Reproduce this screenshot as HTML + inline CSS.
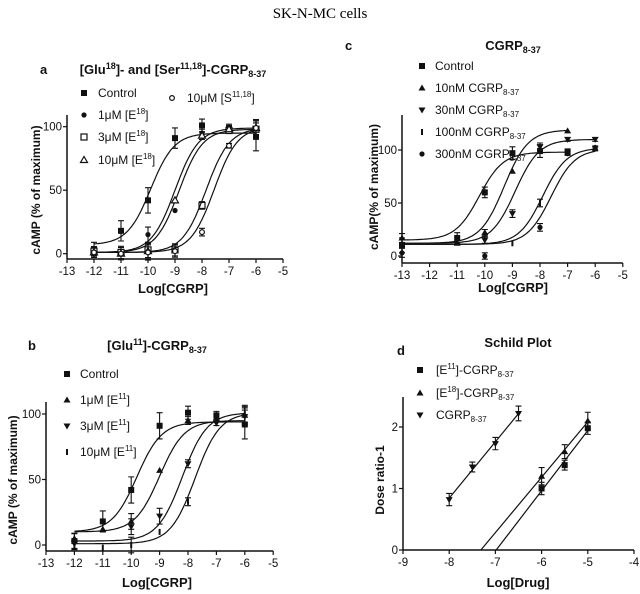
<!DOCTYPE html>
<html><head><meta charset="utf-8"><style>
html,body{margin:0;padding:0;background:#fff;}
svg{display:block;font-family:"Liberation Sans",Arial,sans-serif;}
.t{font-size:11.5px;fill:#111;}
.b{font-weight:bold;font-size:13px;fill:#111;}
.yt{font-weight:bold;font-size:12px;fill:#111;}
.lg{font-size:12px;fill:#111;}
</style></head><body>
<svg id="fig" width="640" height="594" viewBox="0 0 640 594">
<text x="320" y="18" text-anchor="middle" style="font-family:'Liberation Serif',serif;font-size:15px">SK-N-MC cells</text>

<!-- panel a labels -->
<text x="40" y="74" class="b">a</text>
<text x="173" y="74" class="b" text-anchor="middle">[Glu<tspan dy="-5" font-size="9">18</tspan><tspan dy="5">]- and [Ser</tspan><tspan dy="-5" font-size="9">11,18</tspan><tspan dy="5">]-CGRP</tspan><tspan dy="3" font-size="9">8-37</tspan></text>
<text x="98" y="97" class="lg">Control</text>
<text x="98" y="119" class="lg">1μM [E<tspan dy="-5" font-size="8">18</tspan><tspan dy="5">]</tspan></text>
<text x="98" y="141" class="lg">3μM [E<tspan dy="-5" font-size="8">18</tspan><tspan dy="5">]</tspan></text>
<text x="98" y="164" class="lg">10μM [E<tspan dy="-5" font-size="8">18</tspan><tspan dy="5">]</tspan></text>
<text x="187" y="102" class="lg">10μM [S<tspan dy="-5" font-size="8">11,18</tspan><tspan dy="5">]</tspan></text>
<text transform="translate(40,190) rotate(-90)" class="yt" text-anchor="middle">cAMP (% of maximum)</text>
<text x="173" y="293" class="b" text-anchor="middle">Log[CGRP]</text>

<!-- panel c labels -->
<text x="345" y="50" class="b">c</text>
<text x="513" y="50" class="b" text-anchor="middle">CGRP<tspan dy="3" font-size="9">8-37</tspan></text>
<text x="435" y="70" class="lg">Control</text>
<text x="435" y="92" class="lg">10nM CGRP<tspan dy="3" font-size="8">8-37</tspan></text>
<text x="435" y="114" class="lg">30nM CGRP<tspan dy="3" font-size="8">8-37</tspan></text>
<text x="435" y="136" class="lg">100nM CGRP<tspan dy="3" font-size="8">8-37</tspan></text>
<text x="435" y="158" class="lg">300nM CGRP<tspan dy="3" font-size="8">8-37</tspan></text>
<text transform="translate(378,187) rotate(-90)" class="yt" text-anchor="middle">cAMP(% of maximum)</text>
<text x="513" y="292" class="b" text-anchor="middle">Log[CGRP]</text>

<!-- panel b labels -->
<text x="28" y="350" class="b">b</text>
<text x="157" y="350" class="b" text-anchor="middle">[Glu<tspan dy="-5" font-size="9">11</tspan><tspan dy="5">]-CGRP</tspan><tspan dy="3" font-size="9">8-37</tspan></text>
<text x="80" y="378" class="lg">Control</text>
<text x="80" y="404" class="lg">1μM [E<tspan dy="-5" font-size="8">11</tspan><tspan dy="5">]</tspan></text>
<text x="80" y="430" class="lg">3μM [E<tspan dy="-5" font-size="8">11</tspan><tspan dy="5">]</tspan></text>
<text x="80" y="456" class="lg">10μM [E<tspan dy="-5" font-size="8">11</tspan><tspan dy="5">]</tspan></text>
<text transform="translate(17,480) rotate(-90)" class="yt" text-anchor="middle">cAMP (% of maximum)</text>
<text x="157" y="587" class="b" text-anchor="middle">Log[CGRP]</text>

<!-- panel d labels -->
<text x="397" y="355" class="b">d</text>
<text x="518" y="347" class="b" text-anchor="middle">Schild Plot</text>
<text x="436" y="374" class="lg">[E<tspan dy="-5" font-size="8">11</tspan><tspan dy="5">]-CGRP</tspan><tspan dy="3" font-size="8">8-37</tspan></text>
<text x="436" y="397" class="lg">[E<tspan dy="-5" font-size="8">18</tspan><tspan dy="5">]-CGRP</tspan><tspan dy="3" font-size="8">8-37</tspan></text>
<text x="436" y="419" class="lg">CGRP<tspan dy="3" font-size="8">8-37</tspan></text>
<text transform="translate(384,480) rotate(-90)" class="yt" text-anchor="middle">Dose ratio-1</text>
<text x="518" y="587" class="b" text-anchor="middle">Log[Drug]</text>
</svg>
<script>
// ---- Panel a data ----
const aLogX = [-12,-11,-10,-9,-8,-7,-6];
const aControl = [3,18,42,91,101,99,92];
const a1uM = [1,0,15,34,95,99,98];
const a3uM = [2,1,3,3,38,97,98];
const a10uM = [1,0,2,42,93,98,99];
const a10uMS = [1,0,1,2,17,85,99];
const aErr = [6,8,10,8,5,3,11];
const aFitBottom = [7,1,1,1,1];
const aFitTop = [95,98,99,99,100];
const aFitEC50 = [-9.9,-8.85,-9.0,-7.85,-7.55];
const aMarkers = ['sq','circ','osq','otri','ocirc'];
// ---- Panel b data ----
const bLogX = [-12,-11,-10,-9,-8,-7,-6];
const bControl = [3,18,42,91,101,99,92];
const b1uM = [5,12,18,57,95,97,99];
const b3uM = [1,null,14,22,62,93,98];
const b10uM = [0,-2,0,10,33,null,100];
const bErr = [6,8,10,10,5,3,11];
const bFitBottom = [10,10,3,1];
const bFitTop = [94,95,101,101];
const bFitEC50 = [-9.8,-9.0,-8.2,-7.75];
const bMarkers = ['sq','tri','tridown','bar'];
// ---- Panel c data ----
const cLogX = [-13,-11,-10,-9,-8,-7,-6];
const cControl = [10,17,60,97,99,98,null];
const c10nM = [17,12,22,80,null,118,null];
const c30nM = [null,null,15,40,103,110,110];
const c100nM = [null,null,null,12,50,97,102];
const c300nM = [3,null,0,null,27,97,101];
const cErr = [7,5,5,6,6,3,3];
const cFitBottom = [15,12,12,11,11];
const cFitTop = [98,119,110,102,101];
const cFitEC50 = [-10.2,-9.3,-8.9,-7.9,-7.6];
const cFitEnd = [-7,-7,-6,-6,-6];
const cMarkers = ['sq','tri','tridown','bar','circ'];
// ---- Panel d data ----
const dE11X = [-6,-5.5,-5];
const dE11Y = [1.0,1.38,1.98];
const dE18X = [-6,-5.5,-5];
const dE18Y = [1.2,1.6,2.1];
const dCgrpX = [-8,-7.5,-7,-6.5];
const dCgrpY = [0.82,1.35,1.73,2.22];
const dErr = [0.1,0.08,0.1,0.12];

const NS='http://www.w3.org/2000/svg';
const svg=document.getElementById('fig');
function mk(tag,attrs){const e=document.createElementNS(NS,tag);for(const k in attrs)e.setAttribute(k,attrs[k]);svg.appendChild(e);return e;}

function makeAxes(p){
  p.sx=v=>p.x0+(v-p.xmin)*p.kx;
  p.sy=v=>p.y0-v*p.ky;
  let ax=mk('line',{x1:p.x0,y1:p.axisY,x2:p.sx(p.xmax),y2:p.axisY,stroke:'#111','stroke-width':1.5});
  
  
  let ay=mk('line',{x1:p.x0,y1:p.axisY,x2:p.x0,y2:p.axisTop,stroke:'#111','stroke-width':1.5});
  
  
  p.xticks.forEach(t=>{
    const X=p.sx(t);
    const l=mk('line',{x1:X,y1:p.axisY,x2:X,y2:p.axisY+4,stroke:'#111','stroke-width':1.2});
    
    
    const tx=mk('text',{x:X,y:p.axisY+16,'text-anchor':'middle',class:'t'});
    tx.textContent=t;
    
    
  });
  p.yticks.forEach(t=>{
    const Y=p.sy(t);
    const l=mk('line',{x1:p.x0-4,y1:Y,x2:p.x0,y2:Y,stroke:'#111','stroke-width':1.2});
    
    
    const tx=mk('text',{x:p.x0-5,y:Y+4,'text-anchor':'end',class:'t'});
    tx.textContent=t;
    
    
  });
}
function marker(type,X,Y,name){
  let e;const r=3;
  if(type==='sq')e=mk('rect',{x:X-r,y:Y-r,width:2*r,height:2*r,fill:'#111'});
  else if(type==='osq')e=mk('rect',{x:X-r,y:Y-r,width:2*r,height:2*r,fill:'#fff',stroke:'#111','stroke-width':1.2});
  else if(type==='circ')e=mk('circle',{cx:X,cy:Y,r:2.6,fill:'#111'});
  else if(type==='ocirc')e=mk('circle',{cx:X,cy:Y,r:2.4,fill:'#fff',stroke:'#111','stroke-width':1.2});
  else if(type==='tri')e=mk('polygon',{points:`${X},${Y-3.5} ${X-3.5},${Y+2.5} ${X+3.5},${Y+2.5}`,fill:'#111'});
  else if(type==='otri')e=mk('polygon',{points:`${X},${Y-3.5} ${X-3.5},${Y+2.5} ${X+3.5},${Y+2.5}`,fill:'#fff',stroke:'#111','stroke-width':1.2});
  else if(type==='tridown')e=mk('polygon',{points:`${X},${Y+3.5} ${X-3.5},${Y-2.5} ${X+3.5},${Y-2.5}`,fill:'#111'});
  else e=mk('rect',{x:X-1,y:Y-3,width:2,height:6,fill:'#111'});
  
  
}
function errbar(p,xv,yv,err){
  const X=p.sx(xv),Y1=p.sy(yv+err),Y2=p.sy(yv-err);
  const e=mk('path',{d:`M${X},${Y1}V${Y2}M${X-3},${Y1}H${X+3}M${X-3},${Y2}H${X+3}`,stroke:'#111','stroke-width':1.1,fill:'none'});
  
  
}
function sig(b,t,ec,x){return b+(t-b)/(1+Math.pow(10,ec-x));}
function curve(p,b,t,ec,x1,x2,name){
  let d='';for(let i=0;i<=120;i++){const x=x1+(x2-x1)*i/120;d+=(i?'L':'M')+p.sx(x).toFixed(1)+','+p.sy(sig(b,t,ec,x)).toFixed(1);}
  const e=mk('path',{d:d,stroke:'#111','stroke-width':1.2,fill:'none'});
  
  
}
function doseResp(p,xs,series,errs,bots,tops,ecs,marks,ends,start){
  series.forEach((s,i)=>{
    curve(p,bots[i],tops[i],ecs[i],start,ends?ends[i]:-6,'fit-curve-'+p.id+'-'+i);
    s.forEach((v,j)=>{if(v===null)return;
      if(i%2===0||j%2===0)errbar(p,xs[j],v,errs[j]*(i===0?1:0.6));
      marker(marks[i],p.sx(xs[j]),p.sy(v),'point-'+p.id+'-'+i);});
  });
}
function legendMarks(x,ys,marks,id){ys.forEach((y,i)=>marker(marks[i],x,y,'legend-marker-'+id));}

// Panel a
const pa={id:'a',x0:67,xmin:-13,xmax:-5,kx:27,y0:253.7,ky:1.27,axisY:259,axisTop:115,xticks:[-13,-12,-11,-10,-9,-8,-7,-6,-5],yticks:[0,50,100]};
makeAxes(pa);
doseResp(pa,aLogX,[aControl,a1uM,a3uM,a10uM,a10uMS],aErr,aFitBottom,aFitTop,aFitEC50,aMarkers,null,-12);
legendMarks(84,[93,115,137,160],aMarkers,'a');marker('ocirc',172,98,'legend-marker-a');

// Panel b
const pb={id:'b',x0:46,xmin:-13,xmax:-5,kx:28.4,y0:545,ky:1.31,axisY:551,axisTop:402,xticks:[-13,-12,-11,-10,-9,-8,-7,-6,-5],yticks:[0,50,100]};
makeAxes(pb);
doseResp(pb,bLogX,[bControl,b1uM,b3uM,b10uM],bErr,bFitBottom,bFitTop,bFitEC50,bMarkers,null,-12);
legendMarks(67,[374,400,426,452],bMarkers,'b');

// Panel c
const pc={id:'c',x0:402,xmin:-13,xmax:-5,kx:27.6,y0:256,ky:1.06,axisY:263,axisTop:115,xticks:[-13,-12,-11,-10,-9,-8,-7,-6,-5],yticks:[0,50,100]};
makeAxes(pc);
doseResp(pc,cLogX,[cControl,c10nM,c30nM,c100nM,c300nM],cErr,cFitBottom,cFitTop,cFitEC50,cMarkers,cFitEnd,-13);
legendMarks(422,[66,88,110,132,154],cMarkers,'c');

// Panel d
const pd={id:'d',x0:403,xmin:-9,xmax:-4,kx:46.2,y0:550,ky:61.5,axisY:550,axisTop:397,xticks:[-9,-8,-7,-6,-5,-4],yticks:[0,1,2]};
makeAxes(pd);
function regLine(xs,ys,xa,xb,toZero,name){
  const n=xs.length,mx=xs.reduce((a,b)=>a+b)/n,my=ys.reduce((a,b)=>a+b)/n;
  let sxy=0,sxx=0;xs.forEach((x,i)=>{sxy+=(x-mx)*(ys[i]-my);sxx+=(x-mx)*(x-mx);});
  const m=sxy/sxx,f=x=>my+m*(x-mx);
  if(toZero)xa=mx-my/m;
  const e=mk('line',{x1:pd.sx(xa),y1:pd.sy(f(xa)),x2:pd.sx(xb),y2:pd.sy(f(xb)),stroke:'#111','stroke-width':1.2});
  
  
}
regLine(dE11X,dE11Y,0,-5,true,'schild-line-e11');
regLine(dE18X,dE18Y,0,-5,true,'schild-line-e18');
regLine(dCgrpX,dCgrpY,-8,-6.5,false,'schild-line-cgrp');
dE11X.forEach((x,i)=>{errbar(pd,x,dE11Y[i],dErr[i]);marker('sq',pd.sx(x),pd.sy(dE11Y[i]),'point-d-e11');});
dE18X.forEach((x,i)=>{errbar(pd,x,dE18Y[i],dErr[i]*1.4);marker('tri',pd.sx(x),pd.sy(dE18Y[i]),'point-d-e18');});
dCgrpX.forEach((x,i)=>{errbar(pd,x,dCgrpY[i],dErr[i]);marker('tridown',pd.sx(x),pd.sy(dCgrpY[i]),'point-d-cgrp');});
legendMarks(420,[370,393,415],['sq','tri','tridown'],'d');
</script>
</body></html>
